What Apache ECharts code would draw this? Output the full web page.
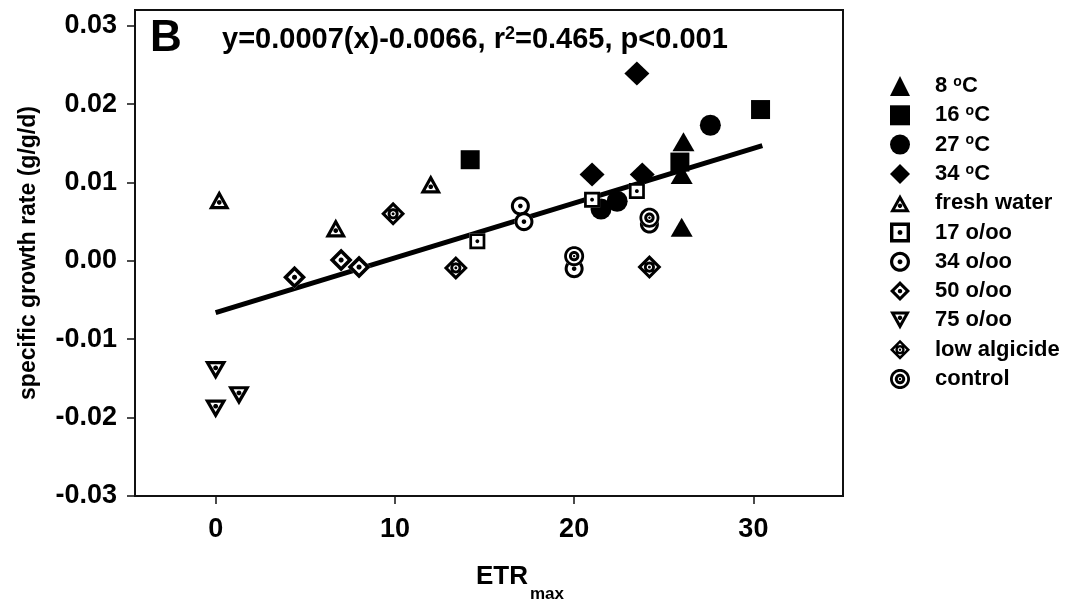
<!DOCTYPE html>
<html><head><meta charset="utf-8">
<script src="https://cdn.jsdelivr.net/npm/echarts@6/dist/echarts.min.js"></script>
<style>html,body{margin:0;padding:0;background:#fff}#c{width:1076px;height:610px}</style>
</head><body><div id="c"></div>
<script>
// ---- data ----
const t8x  = [26.1, 26.0, 26.0],        t8y  = [0.0152, 0.0110, 0.0043];
const t16x = [14.2, 25.9, 30.4],        t16y = [0.0129, 0.0126, 0.0193];
const t27x = [21.5, 22.4, 27.6],        t27y = [0.0066, 0.0076, 0.0173];
const t34x = [21.0, 23.5, 23.8],        t34y = [0.0110, 0.0239, 0.0110];
const fwx  = [0.2, 6.7, 12.0],          fwy  = [0.0078, 0.0042, 0.0098];
const s17x = [14.6, 21.0, 23.5],        s17y = [0.0025, 0.0078, 0.0089];
const s34x = [17.0, 17.2, 20.0, 24.2],  s34y = [0.0070, 0.0050, -0.0010, 0.0047];
const s50x = [4.4, 7.0, 8.0],           s50y = [-0.0021, 0.0001, -0.0008];
const s75x = [0.0, 1.3, 0.0],           s75y = [-0.0140, -0.0172, -0.0189];
const lowx = [9.9, 13.4, 24.2],         lowy = [0.0060, -0.0009, -0.0008];
const ctlx = [20.0, 24.2],              ctly = [0.0006, 0.0055];
const fitX = [0, 30.5],                 fitY = [-0.0066, 0.0147];
const yTicks = [-0.03, -0.02, -0.01, 0.00, 0.01, 0.02, 0.03];
const xTicks = [0, 10, 20, 30];
const names = ['8 °C','16 °C','27 °C','34 °C','fresh water','17 o/oo','34 o/oo','50 o/oo','75 o/oo','low algicide','control'];
const equation = 'y=0.0007(x)-0.0066, r{s|2}=0.465, p<0.001';

// ---- symbol paths ----
function circ(cx, cy, r, rev) {
  const n = 40, p = [];
  for (let i = 0; i < n; i++) { let a = 2 * Math.PI * i / n; if (rev) a = -a; p.push([cx + r * Math.cos(a), cy + r * Math.sin(a)]); }
  return p;
}
function poly(p) { return 'M' + p.map(q => q[0].toFixed(2) + ',' + q[1].toFixed(2)).join('L') + 'Z'; }
function P(...parts) { return 'path://' + parts.map(poly).join(''); }
const dia = h => [[50, 50 - h], [50 + h, 50], [50, 50 + h], [50 - h, 50]];
const diaRev = h => [[50, 50 - h], [50 - h, 50], [50, 50 + h], [50 + h, 50]];
const FW  = P([[50,0],[100,90],[0,90]], [[50,31],[25.5,75],[74.5,75]], circ(50,58,11));
const SQ  = P([[0,0],[100,0],[100,100],[0,100]], [[17,17],[17,83],[83,83],[83,17]], circ(50,50,12));
const CI  = P(circ(50,50,50), circ(50,50,34,true), circ(50,50,12));
const DI  = P(dia(50), diaRev(28), circ(50,50,11));
const IT  = P([[0,0],[100,0],[50,90]], [[50,59],[74.5,15],[25.5,15]], circ(50,32,11));
const LOW = P(dia(50), diaRev(32), circ(50,50,23), circ(50,50,11,true), circ(50,50,6));
const CTL = P(circ(50,50,50), circ(50,50,36,true), circ(50,50,26), circ(50,50,11,true), circ(50,50,6));

const pts = (xs, ys) => xs.map((x, i) => [x, ys[i]]);
const FONT = '"Liberation Sans", Arial, sans-serif';

function filled(name, sym, size, xs, ys) {
  return { name, type: 'scatter', symbol: sym, symbolSize: size, itemStyle: { color: '#000', opacity: 1 }, emphasis: { disabled: true }, data: pts(xs, ys) };
}
function hollow(name, bgSym, bgRot, sym, size, xs, ys) {
  return [
    { type: 'scatter', symbol: bgSym, symbolRotate: bgRot, symbolSize: size, itemStyle: { color: '#fff', opacity: 1 }, silent: true, data: pts(xs, ys) },
    { name, type: 'scatter', symbol: sym, symbolSize: size, itemStyle: { color: '#000', opacity: 1 }, emphasis: { disabled: true }, data: pts(xs, ys) }
  ];
}

const series = [
  { type: 'line', z: 1, data: pts(fitX, fitY), symbol: 'none', lineStyle: { color: '#000', width: 5 }, silent: true },
  filled(names[0], 'triangle', [22, 19], t8x, t8y),
  filled(names[1], 'rect', [19, 19], t16x, t16y),
  filled(names[2], 'circle', [21, 21], t27x, t27y),
  filled(names[3], 'diamond', [25, 24], t34x, t34y),
  ...hollow(names[4], 'triangle', 0, FW, [21, 19], fwx, fwy),
  ...hollow(names[5], 'rect', 0, SQ, [16, 16], s17x, s17y),
  ...hollow(names[6], 'circle', 0, CI, [19, 19], s34x, s34y),
  ...hollow(names[7], 'diamond', 0, DI, [23, 23], s50x, s50y),
  ...hollow(names[8], 'triangle', 180, IT, [22, 19], s75x, s75y),
  ...hollow(names[9], 'diamond', 0, LOW, [24, 24], lowx, lowy),
  ...hollow(names[10], 'circle', 0, CTL, [20, 20], ctlx, ctly)
];
const icons = ['triangle', 'rect', 'circle', 'diamond', FW, SQ, CI, DI, IT, LOW, CTL];

const chart = echarts.init(document.getElementById('c'), null, { renderer: 'canvas' });
chart.setOption({
  animation: false,
  backgroundColor: '#fff',
  grid: { left: 135, right: 233, top: 10, bottom: 114, show: true, borderColor: '#111', borderWidth: 2, backgroundColor: 'transparent' },
  xAxis: {
    type: 'value', min: -4.5, max: 35, interval: 10,
    axisLine: { show: true, onZero: false, lineStyle: { color: '#111', width: 2 } },
    axisTick: { show: true, inside: false, length: 8, lineStyle: { color: '#111', width: 1.5 }, customValues: xTicks },
    axisLabel: { customValues: xTicks, margin: 20, color: '#000', fontFamily: FONT, fontWeight: 'bold', fontSize: 27, formatter: v => String(v) },
    splitLine: { show: false }
  },
  yAxis: {
    type: 'value', min: -0.03, max: 0.032, interval: 0.01,
    name: 'specific growth rate (g/g/d)', nameLocation: 'middle', nameGap: 95, nameRotate: 90,
    nameTextStyle: { color: '#000', fontFamily: FONT, fontWeight: 'bold', fontSize: 23 },
    axisLine: { show: true, onZero: false, lineStyle: { color: '#111', width: 2 } },
    axisTick: { show: true, inside: false, length: 8, lineStyle: { color: '#111', width: 1.5 }, customValues: yTicks },
    axisLabel: { customValues: yTicks, margin: 18, color: '#000', fontFamily: FONT, fontWeight: 'bold', fontSize: 27, formatter: v => v.toFixed(2) },
    splitLine: { show: false }
  },
  legend: {
    orient: 'vertical', left: 885, top: 70, itemWidth: 20, itemHeight: 20, itemGap: 7.3,
    data: names.map((n, i) => ({ name: n, icon: icons[i], itemStyle: { color: '#000', borderWidth: 0, opacity: 1 } })),
    formatter: n => n.replace(' °C', ' {s|o}C'),
    textStyle: { color: '#000', fontFamily: FONT, fontWeight: 'bold', fontSize: 22, lineHeight: 22, padding: [0, 0, 0, 20],
      rich: { s: { color: '#000', fontFamily: FONT, fontWeight: 'bold', fontSize: 14, verticalAlign: 'top', lineHeight: 22 } } },
    selectedMode: false
  },
  graphic: [
    { type: 'text', left: 150, top: 17, style: { text: 'B', fill: '#000', font: 'bold 44px ' + FONT } },
    { type: 'text', left: 222, top: 25, style: { text: equation, fill: '#000', font: 'bold 29px ' + FONT,
      rich: { s: { fill: '#000', fontFamily: FONT, fontWeight: 'bold', fontSize: 18, verticalAlign: 'top' } } } },
    { type: 'text', left: 476, top: 564, style: { text: 'ETR', fill: '#000', font: 'bold 26px ' + FONT } },
    { type: 'text', left: 530, top: 586, style: { text: 'max', fill: '#000', font: 'bold 17px ' + FONT } }
  ],
  series
});
</script>
</body></html>
